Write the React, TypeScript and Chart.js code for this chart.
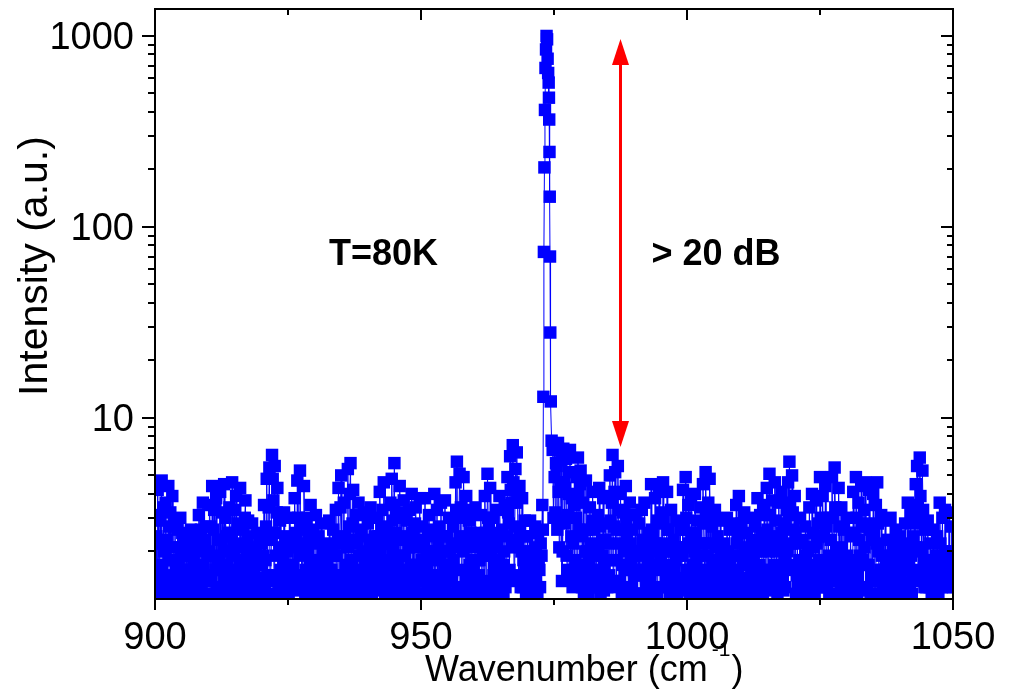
import React, { useEffect, useRef } from 'react';
import { Chart, registerables } from 'chart.js';

Chart.register(...registerables);

// ---- data ----
// The spectrum is sampled on a regular wavenumber grid: the "A" samples sit on
// start + i*STEP and the "B" samples halfway between them.
const LEFT_START = 900;
const RIGHT_START = 975;
const STEP = 0.25;

const LEFT_INTENSITY_A = [
  1.3, 2.4, 4.2, 1.7, 3.1, 4.7, 1.2, 2.0,
  3.6, 1.5, 4.4, 2.7, 1.2, 3.9, 1.8, 2.9,
  1.4, 2.6, 1.2, 3.0, 1.9, 1.3, 2.3, 1.6,
  1.2, 2.1, 1.5, 2.6, 1.3, 1.8, 1.2, 2.4,
  1.6, 3.1, 1.3, 2.2, 3.6, 1.5, 2.7, 1.2,
  2.0, 3.5, 1.4, 4.4, 2.6, 1.2, 3.8, 1.7,
  1.3, 4.1, 2.3, 1.6, 4.5, 3.0, 1.2, 2.5,
  3.4, 1.5, 4.6, 2.1, 1.3, 3.9, 2.8, 1.6,
  4.3, 1.4, 2.6, 1.2, 3.7, 1.9, 2.9, 1.3,
  1.6, 2.8, 1.2, 2.0, 1.4, 2.5, 1.7, 1.2,
  2.2, 1.3, 3.5, 1.8, 4.8, 2.5, 5.5, 1.5,
  6.4, 3.7, 5.6, 1.9, 4.3, 1.3, 2.9, 2.0,
  1.4, 3.2, 1.2, 2.4, 1.7, 3.0, 1.3, 2.1,
  1.6, 3.8, 2.3, 4.7, 1.3, 5.3, 2.8, 1.5,
  4.4, 1.2, 3.0, 2.0, 1.4, 3.5, 1.8, 2.6,
  1.3, 3.1, 1.7, 2.4, 1.2, 2.8, 1.5, 2.0,
  1.2, 2.2, 1.6, 2.9, 1.3, 1.9, 2.6, 1.4,
  3.3, 1.5, 4.3, 2.2, 5.0, 1.3, 3.6, 2.4,
  1.4, 5.4, 2.7, 5.8, 1.8, 4.2, 1.2, 3.1,
  2.2, 3.6, 1.3, 2.6, 1.6, 3.2, 1.2, 1.9,
  2.8, 1.4, 3.4, 1.2, 2.1, 1.7, 3.0, 1.3,
  2.4, 4.1, 1.5, 3.3, 4.6, 1.2, 2.7, 1.8,
  1.3, 3.6, 4.8, 2.0, 5.8, 1.6, 3.2, 1.2,
  4.4, 2.3, 1.4, 3.7, 1.9, 2.9, 1.2, 3.3,
  1.7, 4.0, 2.5, 1.3, 3.4, 1.5, 2.2, 3.8,
  1.2, 2.7, 1.6, 3.8, 2.0, 1.3, 3.1, 1.8,
  2.6, 1.4, 4.0, 1.2, 3.3, 2.1, 1.5, 3.6,
  1.3, 2.4, 3.7, 1.7, 1.2, 3.0, 2.0, 1.4,
  2.7, 1.2, 4.6, 5.9, 1.6, 5.1, 3.4, 1.3,
  4.9, 2.2, 3.9, 1.4, 2.9, 1.2, 3.3, 1.8,
  1.5, 3.4, 1.2, 2.5, 1.8, 3.1, 1.3, 2.2,
  3.9, 1.4, 5.1, 2.6, 4.3, 1.2, 3.0, 1.7,
  2.1, 3.3, 1.3, 3.9, 1.6, 2.6, 1.2, 3.5,
  1.5, 4.9, 2.8, 6.3, 3.6, 7.2, 1.4, 5.4,
  6.6, 2.3, 4.4, 1.3, 3.8, 1.8, 2.9, 1.2,
  2.4, 1.5, 2.9, 1.2, 2.0, 1.4, 2.7, 1.3,
  2.5, 1.6, 2.2,
];

const LEFT_INTENSITY_B = [
  1.5, 1.2, 2.9, 1.35, 2.2, 1.6, 3.4, 1.25,
  2.3, 1.3, 1.8, 3.2, 1.45, 2.1, 1.2, 1.6,
  1.25, 1.7, 2.1, 1.4, 2.5, 1.15, 1.55, 1.9,
  1.6, 1.3, 1.9, 1.2, 2.2, 1.45, 1.7, 1.3,
  1.35, 2.0, 2.6, 1.2, 1.7, 2.3, 1.45, 1.9,
  1.5, 2.7, 1.2, 1.9, 3.3, 1.6, 1.3, 2.3,
  1.8, 1.25, 3.2, 2.0, 1.4, 2.4, 1.7, 1.2,
  2.5, 1.3, 1.9, 3.3, 1.55, 2.2, 1.2, 1.8,
  2.1, 1.5, 1.8, 3.0, 1.3, 2.4, 1.2, 1.7,
  1.3, 2.1, 1.5, 1.2, 1.8, 1.35, 2.2, 1.45,
  1.7, 1.9, 1.25, 2.7, 1.5, 3.4, 1.2, 2.3,
  4.8, 1.4, 2.5, 3.2, 1.2, 2.1, 1.6, 1.3,
  1.8, 1.3, 1.6, 2.0, 1.2, 2.3, 1.5, 1.7,
  1.25, 2.5, 1.4, 3.0, 1.9, 2.2, 1.3, 2.0,
  2.6, 1.6, 1.3, 2.3, 1.75, 1.2, 2.4, 1.4,
  1.6, 1.2, 2.2, 1.4, 1.8, 1.3, 2.0, 1.25,
  1.5, 1.75, 1.2, 2.1, 1.6, 1.3, 1.9, 1.2,
  1.9, 2.3, 1.3, 3.4, 1.5, 2.2, 1.2, 1.7,
  2.1, 1.3, 4.0, 1.6, 2.8, 1.25, 2.3, 1.5,
  1.4, 1.9, 2.4, 1.2, 2.0, 1.5, 1.7, 1.3,
  1.7, 2.3, 1.3, 1.6, 1.25, 2.4, 1.5, 1.9,
  1.3, 2.0, 2.6, 1.4, 2.2, 1.7, 1.2, 2.4,
  2.2, 1.5, 2.9, 3.5, 1.3, 2.5, 1.8, 1.25,
  1.6, 3.0, 1.2, 1.9, 2.4, 1.35, 2.1, 1.5,
  2.2, 1.3, 1.7, 2.8, 1.2, 2.1, 1.6, 1.4,
  1.8, 1.4, 2.3, 1.2, 1.6, 2.5, 1.3, 2.0,
  1.5, 2.4, 1.25, 2.0, 1.4, 2.7, 1.8, 1.2,
  2.0, 1.6, 1.3, 2.4, 1.7, 1.2, 1.5, 2.2,
  1.8, 2.1, 3.3, 1.3, 3.0, 2.4, 1.2, 2.0,
  3.0, 1.5, 1.3, 2.2, 1.7, 2.5, 1.2, 1.6,
  2.1, 1.3, 1.8, 1.5, 2.4, 1.2, 1.9, 1.35,
  2.5, 2.0, 3.0, 1.3, 1.9, 2.3, 1.5, 1.2,
  1.4, 2.2, 1.8, 2.5, 1.2, 1.7, 2.0, 1.3,
  2.4, 3.2, 1.6, 4.2, 2.1, 4.6, 2.7, 3.6,
  3.9, 1.5, 2.6, 2.0, 1.3, 2.4, 1.6, 1.9,
  1.3, 2.0, 1.6, 1.2, 1.75, 2.1, 1.4, 1.2,
  1.8, 1.3,
];

const PEAK_WAVENUMBER = [
  972.65, 972.8, 972.9, 973.0, 973.1, 973.2, 973.3, 973.4, 973.5, 973.6, 973.7,
  973.8, 973.9, 974.0, 974.05, 974.1, 974.15, 974.2, 974.25, 974.3, 974.4,
  974.55, 974.75, 974.9,
];
const PEAK_INTENSITY = [
  1.9, 3.5, 2.6, 12.9, 74, 205, 410, 680, 850, 1000, 960,
  760, 640, 570, 475, 365, 247, 144, 70, 28, 12.2,
  7.6, 6.8, 3.0,
];

const RIGHT_INTENSITY_A = [
  7.0, 3.2, 5.6, 7.4, 2.1, 4.6, 1.4, 6.9,
  2.8, 6.1, 1.6, 4.0, 6.8, 2.4, 1.3, 3.5,
  1.8, 4.9, 6.2, 2.6, 5.3, 1.3, 3.6, 1.5,
  4.7, 2.0, 1.2, 3.4, 1.6, 4.1, 2.6, 1.3,
  1.5, 3.1, 4.3, 1.2, 2.3, 3.8, 1.7, 2.8,
  1.3, 3.9, 5.0, 1.8, 6.4, 2.7, 5.2, 1.4,
  5.6, 2.2, 4.0, 1.2, 3.2, 1.6, 4.4, 2.5,
  1.3, 3.6, 1.8, 2.6, 1.2, 3.1, 1.5, 2.0,
  2.8, 1.2, 3.3, 1.6, 3.6, 2.1, 1.3, 2.5,
  1.4, 4.5, 2.4, 1.2, 3.8, 1.7, 2.9, 4.2,
  1.3, 3.2, 4.6, 2.0, 1.5, 4.1, 2.6, 1.2,
  3.3, 1.6, 2.3, 1.2, 2.9, 1.4, 1.9, 2.6,
  1.3, 4.2, 2.1, 4.9, 1.6, 3.5, 1.2, 3.9,
  2.5, 1.4, 4.0, 1.8, 2.9, 1.2, 3.4, 1.6,
  4.5, 2.2, 5.2, 1.3, 3.6, 4.8, 1.5, 2.7,
  1.2, 3.3, 1.7, 2.4, 1.3, 2.9, 2.0, 1.4,
  2.2, 1.3, 3.0, 1.6, 2.6, 1.2, 1.9, 2.8,
  1.5, 3.5, 2.3, 3.9, 1.2, 2.8, 1.7, 3.2,
  1.3, 2.5, 1.2, 3.0, 1.8, 2.2, 1.4, 2.7,
  2.0, 3.8, 1.3, 3.1, 2.5, 1.2, 3.5, 1.6,
  4.3, 1.5, 5.1, 2.4, 3.7, 1.3, 4.6, 2.0,
  1.2, 3.6, 2.2, 4.1, 1.5, 2.8, 1.3, 3.3,
  4.6, 5.9, 1.7, 5.0, 2.6, 3.9, 1.2, 2.2,
  1.4, 3.0, 1.2, 2.3, 1.8, 2.7, 1.3, 2.0,
  3.4, 1.5, 4.0, 2.1, 1.2, 3.7, 1.7, 2.8,
  4.9, 1.3, 3.9, 2.4, 4.4, 1.6, 3.0, 1.2,
  2.3, 4.9, 1.4, 5.5, 3.3, 1.2, 4.3, 1.9,
  3.4, 1.5, 2.6, 1.2, 3.0, 1.8, 1.3, 2.4,
  1.6, 4.1, 2.5, 4.9, 1.2, 3.6, 1.9, 4.4,
  1.3, 3.3, 4.6, 1.7, 2.7, 4.2, 1.2, 2.3,
  4.0, 1.4, 3.5, 4.6, 2.0, 1.2, 3.1, 1.6,
  1.3, 2.9, 1.7, 2.3, 1.2, 3.0, 1.5, 2.1,
  1.2, 2.6, 1.4, 1.9, 2.4, 1.3, 2.1, 1.6,
  2.8, 1.3, 3.6, 1.7, 3.2, 1.2, 2.4, 3.4,
  4.5, 5.6, 1.4, 6.2, 3.1, 5.3, 1.8, 2.6,
  1.3, 2.9, 1.6, 2.2, 1.2, 2.6, 1.5, 1.9,
  2.4, 1.2, 3.6, 1.7, 3.0, 1.4, 3.3, 2.0,
  1.5, 3.2, 1.9, 2.7, 1.3,
];

const RIGHT_INTENSITY_B = [
  4.9, 5.8, 2.6, 4.1, 3.0, 6.0, 2.0, 4.6,
  4.3, 1.9, 3.1, 5.2, 1.5, 3.8, 2.2, 1.6,
  3.0, 1.4, 3.9, 4.5, 1.7, 2.4, 1.2, 2.0,
  2.6, 1.5, 1.8, 2.2, 1.3, 2.9, 1.45, 1.9,
  2.1, 1.3, 2.7, 1.6, 1.9, 1.25, 2.3, 1.4,
  2.2, 1.5, 2.9, 3.6, 1.3, 4.1, 1.8, 2.6,
  3.3, 1.4, 2.6, 1.7, 2.0, 1.25, 2.9, 1.6,
  1.7, 2.2, 1.3, 1.9, 1.5, 2.0, 1.2, 1.6,
  1.5, 1.9, 2.3, 1.2, 2.2, 1.4, 1.8, 1.3,
  2.0, 2.6, 1.3, 1.6, 2.2, 1.2, 2.0, 2.8,
  1.8, 2.2, 2.9, 1.3, 1.7, 2.6, 1.4, 1.6,
  2.0, 1.3, 1.6, 1.8, 1.2, 2.1, 1.45, 1.3,
  1.9, 2.6, 1.4, 3.0, 1.25, 2.2, 1.6, 2.4,
  1.7, 2.0, 2.5, 1.3, 1.9, 1.5, 2.2, 1.2,
  2.8, 1.4, 3.2, 1.9, 2.2, 3.0, 1.25, 1.7,
  1.6, 2.1, 1.3, 1.8, 1.5, 1.9, 1.3, 1.2,
  1.5, 1.7, 2.0, 1.25, 1.8, 1.4, 1.3, 1.9,
  1.3, 2.2, 1.6, 2.5, 1.45, 1.9, 1.2, 2.1,
  1.7, 1.4, 1.9, 1.3, 1.5, 1.8, 1.2, 1.6,
  1.4, 2.3, 1.7, 2.0, 1.6, 1.3, 2.2, 1.25,
  2.6, 2.0, 3.1, 1.5, 2.3, 1.7, 2.9, 1.4,
  1.6, 2.1, 1.4, 2.5, 1.25, 1.9, 1.7, 2.0,
  3.1, 3.6, 2.2, 3.2, 1.6, 2.5, 1.5, 1.3,
  1.8, 1.5, 1.6, 1.4, 1.2, 1.9, 1.7, 1.3,
  2.1, 1.25, 2.5, 1.4, 1.6, 2.2, 1.3, 1.8,
  3.0, 1.7, 2.4, 1.5, 2.7, 1.3, 1.9, 1.6,
  1.5, 3.0, 1.8, 3.4, 2.0, 1.6, 2.7, 1.3,
  2.1, 1.3, 1.7, 1.5, 1.9, 1.25, 1.6, 1.4,
  1.3, 2.5, 1.7, 3.0, 1.5, 2.3, 1.25, 2.7,
  1.8, 2.1, 2.8, 1.3, 1.7, 2.6, 1.5, 1.4,
  2.5, 1.2, 2.2, 2.8, 1.4, 1.6, 1.9, 1.3,
  1.6, 1.8, 1.3, 1.5, 1.7, 1.9, 1.25, 1.4,
  1.5, 1.7, 1.25, 1.6, 1.4, 1.8, 1.3, 1.2,
  1.7, 2.0, 2.2, 1.3, 1.9, 1.5, 1.6, 2.1,
  2.8, 3.5, 2.1, 3.9, 2.0, 3.3, 1.3, 1.6,
  1.4, 1.8, 1.3, 1.6, 1.5, 1.7, 1.2, 1.3,
  1.6, 1.5, 2.2, 1.3, 1.9, 1.6, 2.0, 1.4,
  1.3, 1.9, 1.5, 1.7,
];

const X_MIN = 900;
const X_MAX = 1050;
const Y_MIN = 1.127;
const Y_MAX = 1384;
const X_MAJOR_TICKS = [900, 950, 1000, 1050];
const X_MINOR_TICKS = [925, 975, 1025];
const Y_MAJOR_TICKS = [10, 100, 1000];
const Y_MINOR_TICKS = [2, 3, 4, 5, 6, 7, 8, 9, 20, 30, 40, 50, 60, 70, 80, 90, 200, 300, 400, 500, 600, 700, 800, 900];

const ARROW_X = 987.5;
const ARROW_TOP = 965;
const ARROW_BOTTOM = 7.05;

const X_TITLE = 'Wavenumber (cm';
const X_TITLE_SUP = '-1';
const X_TITLE_END = ')';
const Y_TITLE = 'Intensity (a.u.)';
const NOTE_TEMP = 'T=80K';
const NOTE_DB = '> 20 dB';

const FONT = '"Liberation Sans", Arial, Helvetica, sans-serif';

function pushInterleaved(
  pts: { x: number; y: number }[],
  start: number,
  a: number[],
  b: number[],
) {
  a.forEach((v, i) => {
    pts.push({ x: start + i * STEP, y: v });
    if (i < b.length) pts.push({ x: start + STEP / 2 + i * STEP, y: b[i] });
  });
}

function buildPoints() {
  const pts: { x: number; y: number }[] = [];
  pushInterleaved(pts, LEFT_START, LEFT_INTENSITY_A, LEFT_INTENSITY_B);
  PEAK_INTENSITY.forEach((v, i) => pts.push({ x: PEAK_WAVENUMBER[i], y: v }));
  pushInterleaved(pts, RIGHT_START, RIGHT_INTENSITY_A, RIGHT_INTENSITY_B);
  return pts;
}

const decorPlugin = {
  id: 'decor',
  afterDatasetsDraw(chart: any) {
    const { ctx, chartArea: a, scales } = chart;
    const xs = scales.x;
    const ys = scales.y;
    ctx.save();

    // red double arrow
    const ax = xs.getPixelForValue(ARROW_X);
    const at = ys.getPixelForValue(ARROW_TOP);
    const ab = ys.getPixelForValue(ARROW_BOTTOM);
    const headL = 26;
    const headW = 8.5;
    ctx.strokeStyle = '#ff0000';
    ctx.fillStyle = '#ff0000';
    ctx.lineWidth = 3;
    ctx.beginPath();
    ctx.moveTo(ax, at + headL - 2);
    ctx.lineTo(ax, ab - headL + 2);
    ctx.stroke();
    ctx.beginPath();
    ctx.moveTo(ax, at);
    ctx.lineTo(ax - headW, at + headL);
    ctx.lineTo(ax + headW, at + headL);
    ctx.closePath();
    ctx.fill();
    ctx.beginPath();
    ctx.moveTo(ax, ab);
    ctx.lineTo(ax - headW, ab - headL);
    ctx.lineTo(ax + headW, ab - headL);
    ctx.closePath();
    ctx.fill();

    // frame
    ctx.strokeStyle = '#000';
    ctx.lineWidth = 2;
    ctx.beginPath();
    ctx.rect(a.left, a.top, a.right - a.left, a.bottom - a.top);
    ctx.stroke();

    // ticks
    ctx.lineWidth = 2;
    ctx.beginPath();
    const xTick = (v: number, outLen: number, inLen: number) => {
      const px = Math.round(xs.getPixelForValue(v));
      ctx.moveTo(px, a.bottom);
      ctx.lineTo(px, a.bottom + outLen);
      ctx.moveTo(px, a.top);
      ctx.lineTo(px, a.top + inLen);
    };
    X_MAJOR_TICKS.forEach((v) => xTick(v, 11, 11));
    X_MINOR_TICKS.forEach((v) => xTick(v, 6, 6));
    const yTick = (v: number, outLen: number, inLen: number) => {
      const py = Math.round(ys.getPixelForValue(v));
      ctx.moveTo(a.left - outLen, py);
      ctx.lineTo(a.left, py);
      ctx.moveTo(a.right - inLen, py);
      ctx.lineTo(a.right, py);
    };
    Y_MAJOR_TICKS.forEach((v) => yTick(v, 13, 12));
    Y_MINOR_TICKS.forEach((v) => yTick(v, 7, 6));
    ctx.stroke();

    // tick labels
    ctx.fillStyle = '#000';
    ctx.font = `38px ${FONT}`;
    ctx.textAlign = 'center';
    ctx.textBaseline = 'alphabetic';
    X_MAJOR_TICKS.forEach((v) => {
      ctx.fillText(String(v), xs.getPixelForValue(v), a.bottom + 50);
    });
    ctx.textAlign = 'right';
    Y_MAJOR_TICKS.forEach((v) => {
      ctx.fillText(String(v), a.left - 21, ys.getPixelForValue(v) + 13.5);
    });

    // x title with superscript
    ctx.textAlign = 'left';
    ctx.font = `36px ${FONT}`;
    const tx = 425;
    const tyBase = 681;
    ctx.fillText(X_TITLE, tx, tyBase);
    const w1 = ctx.measureText(X_TITLE).width;
    ctx.font = `21px ${FONT}`;
    ctx.fillText(X_TITLE_SUP, tx + w1 + 4, tyBase - 25);
    const w2 = ctx.measureText(X_TITLE_SUP).width;
    ctx.font = `36px ${FONT}`;
    ctx.fillText(X_TITLE_END, tx + w1 + 4 + w2 + 1, tyBase);

    // y title
    ctx.save();
    ctx.translate(47, 266);
    ctx.rotate(-Math.PI / 2);
    ctx.textAlign = 'center';
    ctx.textBaseline = 'alphabetic';
    ctx.font = `41px ${FONT}`;
    ctx.fillText(Y_TITLE, 0, 0);
    ctx.restore();

    // annotations
    ctx.font = `bold 36px ${FONT}`;
    ctx.textAlign = 'center';
    ctx.fillText(NOTE_TEMP, 383.5, 265);
    ctx.fillText(NOTE_DB, 716, 265);

    ctx.restore();
  },
};

export default function App() {
  const ref = useRef<HTMLCanvasElement | null>(null);
  useEffect(() => {
    if (!ref.current) return;
    const chart = new Chart(ref.current, {
      type: 'scatter',
      data: {
        datasets: [
          {
            data: buildPoints(),
            showLine: true,
            borderColor: '#0000ff',
            borderWidth: 1,
            backgroundColor: '#0000ff',
            pointStyle: 'rect',
            pointRadius: 8.8,
            pointBorderWidth: 0,
            pointBackgroundColor: '#0000ff',
            pointHoverRadius: 8.8,
          },
        ],
      },
      options: {
        animation: false,
        responsive: false,
        devicePixelRatio: 1,
        events: [],
        layout: { padding: { left: 155, top: 9, right: 57, bottom: 98 } },
        plugins: { legend: { display: false }, tooltip: { enabled: false } },
        scales: {
          x: { type: 'linear', min: X_MIN, max: X_MAX, display: false },
          y: { type: 'logarithmic', min: Y_MIN, max: Y_MAX, display: false },
        },
      },
      plugins: [decorPlugin],
    });
    return () => chart.destroy();
  }, []);
  return (
    <div style={{ position: 'fixed', left: 0, top: 0, width: 1010, height: 697, background: '#fff' }}>
      <canvas ref={ref} width={1010} height={697} style={{ display: 'block' }} />
    </div>
  );
}
